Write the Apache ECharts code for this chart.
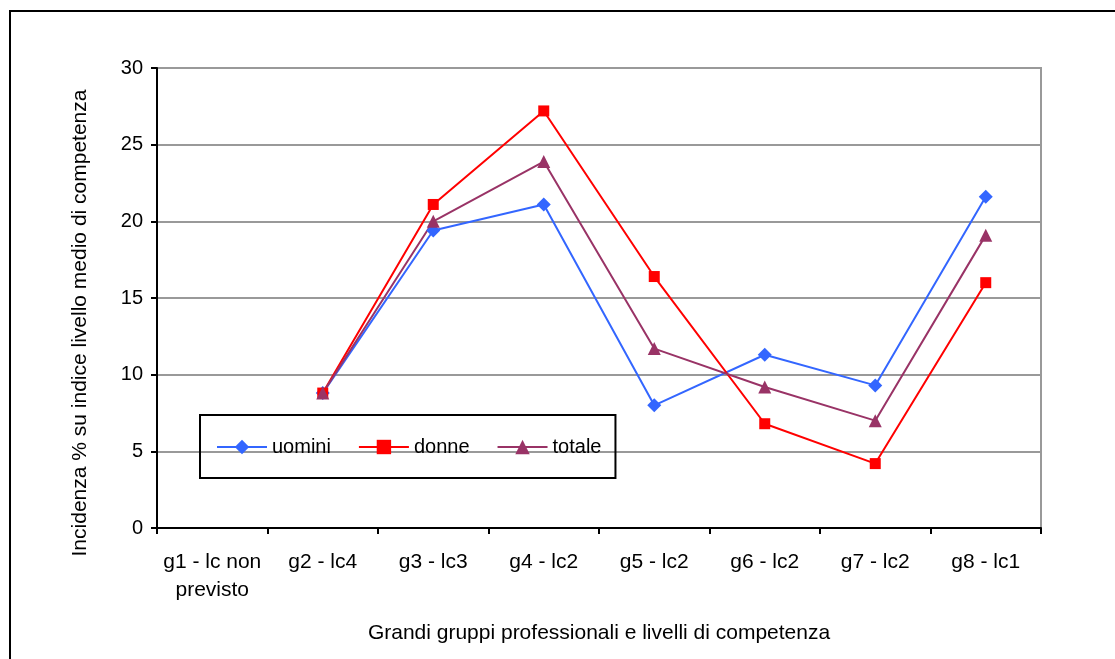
<!DOCTYPE html>
<html>
<head>
    <meta charset="UTF-8">
    <script type="text/javascript" src="https://cdn.jsdelivr.net/npm/echarts@6/dist/echarts.min.js"></script>
</head>
<style>
    html, body { margin: 0; padding: 0; background: #fff; }
</style>
<body>
<div id="main" style="width: 1115px;height:659px;"></div>
<script>
    // dati
    var categorie = ['g1 - lc non\nprevisto', 'g2 - lc4', 'g3 - lc3', 'g4 - lc2', 'g5 - lc2', 'g6 - lc2', 'g7 - lc2', 'g8 - lc1']
    var uomini = [null, 8.8, 19.4, 21.1, 8.0, 11.3, 9.3, 21.6]
    var donne = [null, 8.8, 21.1, 27.2, 16.4, 6.8, 4.2, 16.0]
    var totale = [null, 8.8, 20.0, 23.9, 11.7, 9.2, 7.0, 19.1]

    var font = 'Liberation Sans, Arial, sans-serif'
    var chart = echarts.init(document.getElementById('main'));

    function serie(name, data, color, symbol, size) {
        return {
            name: name,
            type: 'line',
            data: data,
            symbol: symbol,
            symbolSize: size,
            showSymbol: true,
            connectNulls: false,
            animation: false,
            lineStyle: {color: color, width: 2},
            itemStyle: {color: color}
        }
    }

    var option = {
        backgroundColor: '#fff',
        animation: false,
        textStyle: {fontFamily: font},
        graphic: [{
            type: 'rect',
            shape: {x: 10, y: 11, width: 1200, height: 700},
            style: {fill: 'none', stroke: '#000', lineWidth: 2},
            silent: true
        }],
        grid: {
            left: 157, right: 74, top: 68, bottom: 131,
            show: true, borderColor: '#999', borderWidth: 2
        },
        legend: {
            left: 200, top: 415,
            orient: 'horizontal',
            itemWidth: 50, itemHeight: 18, itemGap: 27,
            padding: [22, 14, 21, 16],
            borderColor: '#000', borderWidth: 2,
            textStyle: {fontFamily: font, fontSize: 20, color: '#000'},
            data: ['uomini', 'donne', 'totale']
        },
        xAxis: {
            type: 'category',
            data: categorie,
            boundaryGap: true,
            name: 'Grandi gruppi professionali e livelli di competenza',
            nameLocation: 'middle',
            nameGap: 95,
            nameTextStyle: {fontFamily: font, fontSize: 21, color: '#000'},
            axisLine: {lineStyle: {color: '#000', width: 2}},
            axisTick: {show: true, inside: false, length: 6, lineStyle: {color: '#000', width: 2}},
            axisLabel: {fontFamily: font, fontSize: 21, color: '#000', margin: 20, lineHeight: 28, interval: 0},
            splitLine: {show: false}
        },
        yAxis: {
            type: 'value',
            min: 0, max: 30, interval: 5,
            name: 'Incidenza % su indice livello medio di competenza',
            nameLocation: 'middle',
            nameGap: 66,
            nameRotate: 90,
            nameTextStyle: {fontFamily: font, fontSize: 21, color: '#000', padding: [0, 50, 0, 0]},
            axisLine: {show: true, lineStyle: {color: '#000', width: 2}},
            axisTick: {show: true, inside: false, length: 6, lineStyle: {color: '#000', width: 2}},
            axisLabel: {fontFamily: font, fontSize: 20, color: '#000', margin: 14},
            splitLine: {show: true, lineStyle: {color: '#999', width: 2}}
        },
        series: [
            serie('uomini', uomini, '#3366FF', 'diamond', 14),
            serie('donne', donne, '#FF0000', 'rect', 11),
            serie('totale', totale, '#993366', 'triangle', 13)
        ]
    };
    chart.setOption(option);
</script>
</body>
</html>
